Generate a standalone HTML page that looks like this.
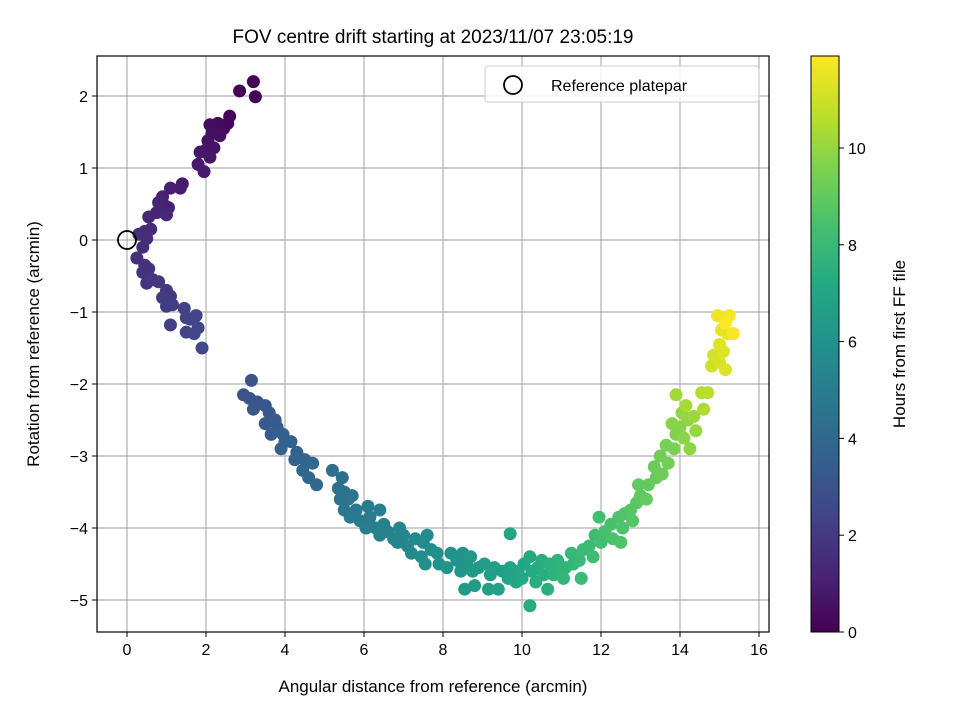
<!DOCTYPE html>
<html><head><meta charset="utf-8"><style>
body{margin:0;background:#fff}
svg text{font-family:"Liberation Sans","DejaVu Sans",sans-serif;fill:#000}
</style></head><body>
<svg id="c" width="960" height="720" xmlns="http://www.w3.org/2000/svg">
<defs><linearGradient id="vir" x1="0" y1="1" x2="0" y2="0">
<stop offset="0" stop-color="#440154"/><stop offset="0.1" stop-color="#482475"/><stop offset="0.2" stop-color="#414487"/><stop offset="0.3" stop-color="#355f8d"/><stop offset="0.4" stop-color="#2a788e"/><stop offset="0.5" stop-color="#21918c"/><stop offset="0.6" stop-color="#22a884"/><stop offset="0.7" stop-color="#44bf70"/><stop offset="0.8" stop-color="#7ad151"/><stop offset="0.9" stop-color="#bddf26"/><stop offset="1" stop-color="#fde725"/>
</linearGradient></defs>
<g id="grid"></g><g id="pts"></g><g id="axes"></g>
</svg>
<script>
const xTicks=[0,2,4,6,8,10,12,14,16];
const yTicks=[2,1,0,-1,-2,-3,-4,-5];
const cTicks=[0,2,4,6,8,10];
const xs=[3.2,3.25,2.85,2.6,2.55,2.45,2.3,2.1,2.15,2.35,2.05,2.2,2.0,2.1,1.85,1.8,1.95,1.4,1.35,1.1,0.9,0.95,1.05,0.8,0.75,1.0,0.55,0.6,0.45,0.3,0.5,0.4,
0.25,0.45,0.55,0.4,0.5,0.65,0.8,1.0,1.1,0.9,1.0,1.15,1.1,1.45,1.5,1.6,1.75,1.8,1.5,1.7,1.9,
3.15,2.95,3.1,3.3,3.2,3.5,3.6,3.5,3.75,3.8,3.65,3.95,4.0,3.9,4.15,4.3,4.25,4.5,4.45,4.6,4.7,4.8,5.2,5.45,5.35,5.5,5.6,5.4,5.7,5.5,5.8,5.65,5.9,6.15,6.1,6.4,6.05,6.3,6.5,6.6,6.4,6.75,6.9,6.85,7.0,7.1,7.3,7.2,7.5,7.45,7.6,7.7,7.55,7.85,7.9,8.2,8.1,8.35,8.5,8.45,8.6,8.7,8.75,8.55,8.9,8.8,9.05,9.2,9.3,9.15,9.5,9.4,9.65,9.7,9.7,9.9,9.85,10.05,10.0,10.2,10.25,10.2,10.4,10.35,10.5,10.55,10.65,10.7,10.8,10.9,10.95,11.1,11.05,11.3,11.25,11.45,11.55,11.5,11.7,11.8,11.85,12.0,11.95,12.1,12.25,12.3,12.45,12.55,12.6,12.5,12.75,12.9,12.8,13.0,12.95,13.2,13.15,13.4,13.35,13.55,13.5,13.7,13.65,13.85,13.9,14.0,13.8,14.1,14.2,14.05,14.25,14.4,14.35,13.9,14.15,14.6,14.55,14.7,14.8,14.85,15.0,15.0,15.15,15.1,15.2,15.05,14.95,15.25,15.35,15.15];
const ys=[2.2,1.99,2.07,1.72,1.62,1.55,1.62,1.6,1.48,1.45,1.38,1.28,1.25,1.15,1.22,1.05,0.95,0.78,0.72,0.72,0.6,0.48,0.45,0.52,0.38,0.35,0.32,0.15,0.12,0.08,0.02,-0.1,
-0.25,-0.35,-0.4,-0.45,-0.6,-0.55,-0.58,-0.7,-0.78,-0.8,-0.92,-0.9,-1.18,-0.95,-1.08,-1.1,-1.05,-1.22,-1.28,-1.3,-1.5,
-1.95,-2.15,-2.2,-2.25,-2.35,-2.3,-2.4,-2.55,-2.5,-2.6,-2.7,-2.7,-2.8,-2.9,-2.8,-2.95,-3.05,-3.05,-3.2,-3.3,-3.1,-3.4,-3.2,-3.3,-3.45,-3.5,-3.6,-3.6,-3.55,-3.75,-3.75,-3.85,-3.9,-3.85,-3.7,-3.75,-4.0,-4.0,-3.95,-4.05,-4.1,-4.15,-4.0,-4.2,-4.1,-4.25,-4.15,-4.35,-4.2,-4.4,-4.1,-4.3,-4.5,-4.35,-4.5,-4.35,-4.55,-4.45,-4.35,-4.6,-4.5,-4.4,-4.6,-4.85,-4.55,-4.8,-4.5,-4.65,-4.55,-4.85,-4.6,-4.85,-4.7,-4.55,-4.08,-4.6,-4.75,-4.5,-4.7,-4.4,-4.6,-5.08,-4.55,-4.75,-4.45,-4.65,-4.85,-4.5,-4.65,-4.45,-4.6,-4.55,-4.7,-4.5,-4.35,-4.45,-4.3,-4.7,-4.25,-4.4,-4.1,-4.2,-3.85,-4.05,-3.95,-4.15,-3.85,-4.0,-3.8,-4.2,-3.75,-3.65,-3.9,-3.55,-3.4,-3.4,-3.6,-3.3,-3.15,-3.25,-3.0,-3.1,-2.85,-2.9,-2.7,-2.6,-2.55,-2.75,-2.5,-2.4,-2.9,-2.65,-2.45,-2.15,-2.3,-2.35,-2.12,-2.12,-1.75,-1.6,-1.7,-1.45,-1.8,-1.55,-1.3,-1.25,-1.05,-1.05,-1.3,-1.15];
const hours=[0,0.05,0.1,0.2,0.25,0.3,0.35,0.4,0.45,0.5,0.55,0.6,0.65,0.7,0.75,0.8,0.85,0.9,0.95,1.0,1.05,1.1,1.15,1.2,1.25,1.3,1.35,1.4,1.45,1.5,1.52,1.55,
1.6,1.65,1.7,1.75,1.8,1.85,1.9,1.95,2.0,2.05,2.1,2.15,2.2,2.25,2.3,2.35,2.4,2.45,2.5,2.55,2.6,
3.0,3.05,3.1,3.15,3.2,3.25,3.3,3.35,3.4,3.45,3.5,3.55,3.6,3.65,3.7,3.75,3.8,3.85,3.9,3.95,4.0,4.05,4.3,4.4,4.45,4.5,4.6,4.55,4.65,4.7,4.75,4.8,4.85,4.9,4.95,5.0,5.05,5.1,5.15,5.2,5.25,5.3,5.35,5.4,5.45,5.5,5.55,5.6,5.65,5.7,5.75,5.8,5.85,5.9,5.95,6.0,6.05,6.1,6.15,6.2,6.25,6.3,6.35,6.4,6.45,6.5,6.55,6.6,6.65,6.7,6.75,6.8,6.85,6.9,7.0,7.0,7.05,7.1,7.15,7.2,7.25,7.3,7.3,7.35,7.4,7.45,7.5,7.55,7.6,7.65,7.7,7.75,7.8,7.85,7.9,7.95,8.0,8.0,8.1,8.15,8.2,8.25,8.3,8.35,8.4,8.45,8.5,8.55,8.6,8.6,8.7,8.8,8.75,8.9,8.95,9.0,9.05,9.1,9.2,9.25,9.3,9.35,9.45,9.5,9.6,9.7,9.75,9.8,9.9,9.95,9.85,10.0,10.1,10.2,10.3,10.4,10.5,10.6,11.0,11.1,11.2,11.3,11.25,11.35,11.4,11.5,11.6,11.7,11.8,11.85];
const NS="http://www.w3.org/2000/svg";
const L=97,R=769,T=56,B=632;
const sx=v=>127+v*39.5, sy=v=>240-v*72;
const cMax=11.9, cy=v=>632-v*(576/cMax);
const vir=[[68,1,84],[72,36,117],[65,68,135],[53,95,141],[42,120,142],[33,145,140],[34,168,132],[68,191,112],[122,209,81],[189,223,38],[253,231,37]];
function col(t){let f=Math.max(0,Math.min(1,t/cMax))*10,i=Math.min(9,Math.floor(f)),r=f-i,a=vir[i],b=vir[i+1];
return `rgb(${a.map((c,k)=>Math.round(c+(b[k]-c)*r)).join(',')})`;}
function mk(tag,at,par,txt){const e=document.createElementNS(NS,tag);for(const k in at)e.setAttribute(k,at[k]);if(txt!==undefined)e.textContent=txt;par.appendChild(e);return e;}
const g=document.getElementById('grid'),p=document.getElementById('pts'),a=document.getElementById('axes');
xTicks.forEach(v=>{const l=mk('line',{x1:sx(v),x2:sx(v),y1:T,y2:B,stroke:'#b0b0b0','stroke-width':1.2},g);


mk('line',{x1:sx(v),x2:sx(v),y1:B,y2:B+5,stroke:'#000'},a);
const t=mk('text',{x:sx(v),y:B+23,'text-anchor':'middle','font-size':16},a,String(v));

});
yTicks.forEach(v=>{const l=mk('line',{x1:L,x2:R,y1:sy(v),y2:sy(v),stroke:'#b0b0b0','stroke-width':1.2},g);


mk('line',{x1:L-5,x2:L,y1:sy(v),y2:sy(v),stroke:'#000'},a);
const t=mk('text',{x:L-9,y:sy(v)+6,'text-anchor':'end','font-size':16},a,v<0?'\u2212'+(-v):String(v));

});
xs.forEach((x,i)=>{const c=mk('circle',{cx:sx(x),cy:sy(ys[i]),r:6.5,fill:col(hours[i])},p);

});
const ref=mk('circle',{cx:sx(0),cy:sy(0),r:9,fill:'none',stroke:'#000','stroke-width':1.8},p);


const fr=mk('rect',{x:L,y:T,width:R-L,height:B-T,fill:'none',stroke:'#000','stroke-width':1.2},a);


const ti=mk('text',{x:433,y:43,'text-anchor':'middle','font-size':19},a,'FOV centre drift starting at 2023/11/07 23:05:19');


const xl=mk('text',{x:433,y:692,'text-anchor':'middle','font-size':17},a,'Angular distance from reference (arcmin)');


const yl=mk('text',{x:0,y:0,'text-anchor':'middle','font-size':17,transform:'translate(39,344) rotate(-90)'},a,'Rotation from reference (arcmin)');


const lg=mk('g',{},a);


mk('rect',{x:485,y:66,width:274,height:36,rx:3,fill:'#fff','fill-opacity':0.85,stroke:'#ccc'},lg);
mk('circle',{cx:513,cy:85,r:9,fill:'none',stroke:'#000','stroke-width':1.8},lg);
mk('text',{x:551,y:91,'font-size':16},lg,'Reference platepar');
const cb=mk('rect',{x:811,y:56,width:28,height:576,fill:'url(#vir)',stroke:'#000','stroke-width':1},a);


cTicks.forEach(v=>{mk('line',{x1:839,x2:844,y1:cy(v),y2:cy(v),stroke:'#000'},a);
const t=mk('text',{x:848,y:cy(v)+6,'font-size':16},a,String(v));

});
const cl=mk('text',{x:0,y:0,'text-anchor':'middle','font-size':17,transform:'translate(905,344) rotate(-90)'},a,'Hours from first FF file');


</script>
</body></html>
